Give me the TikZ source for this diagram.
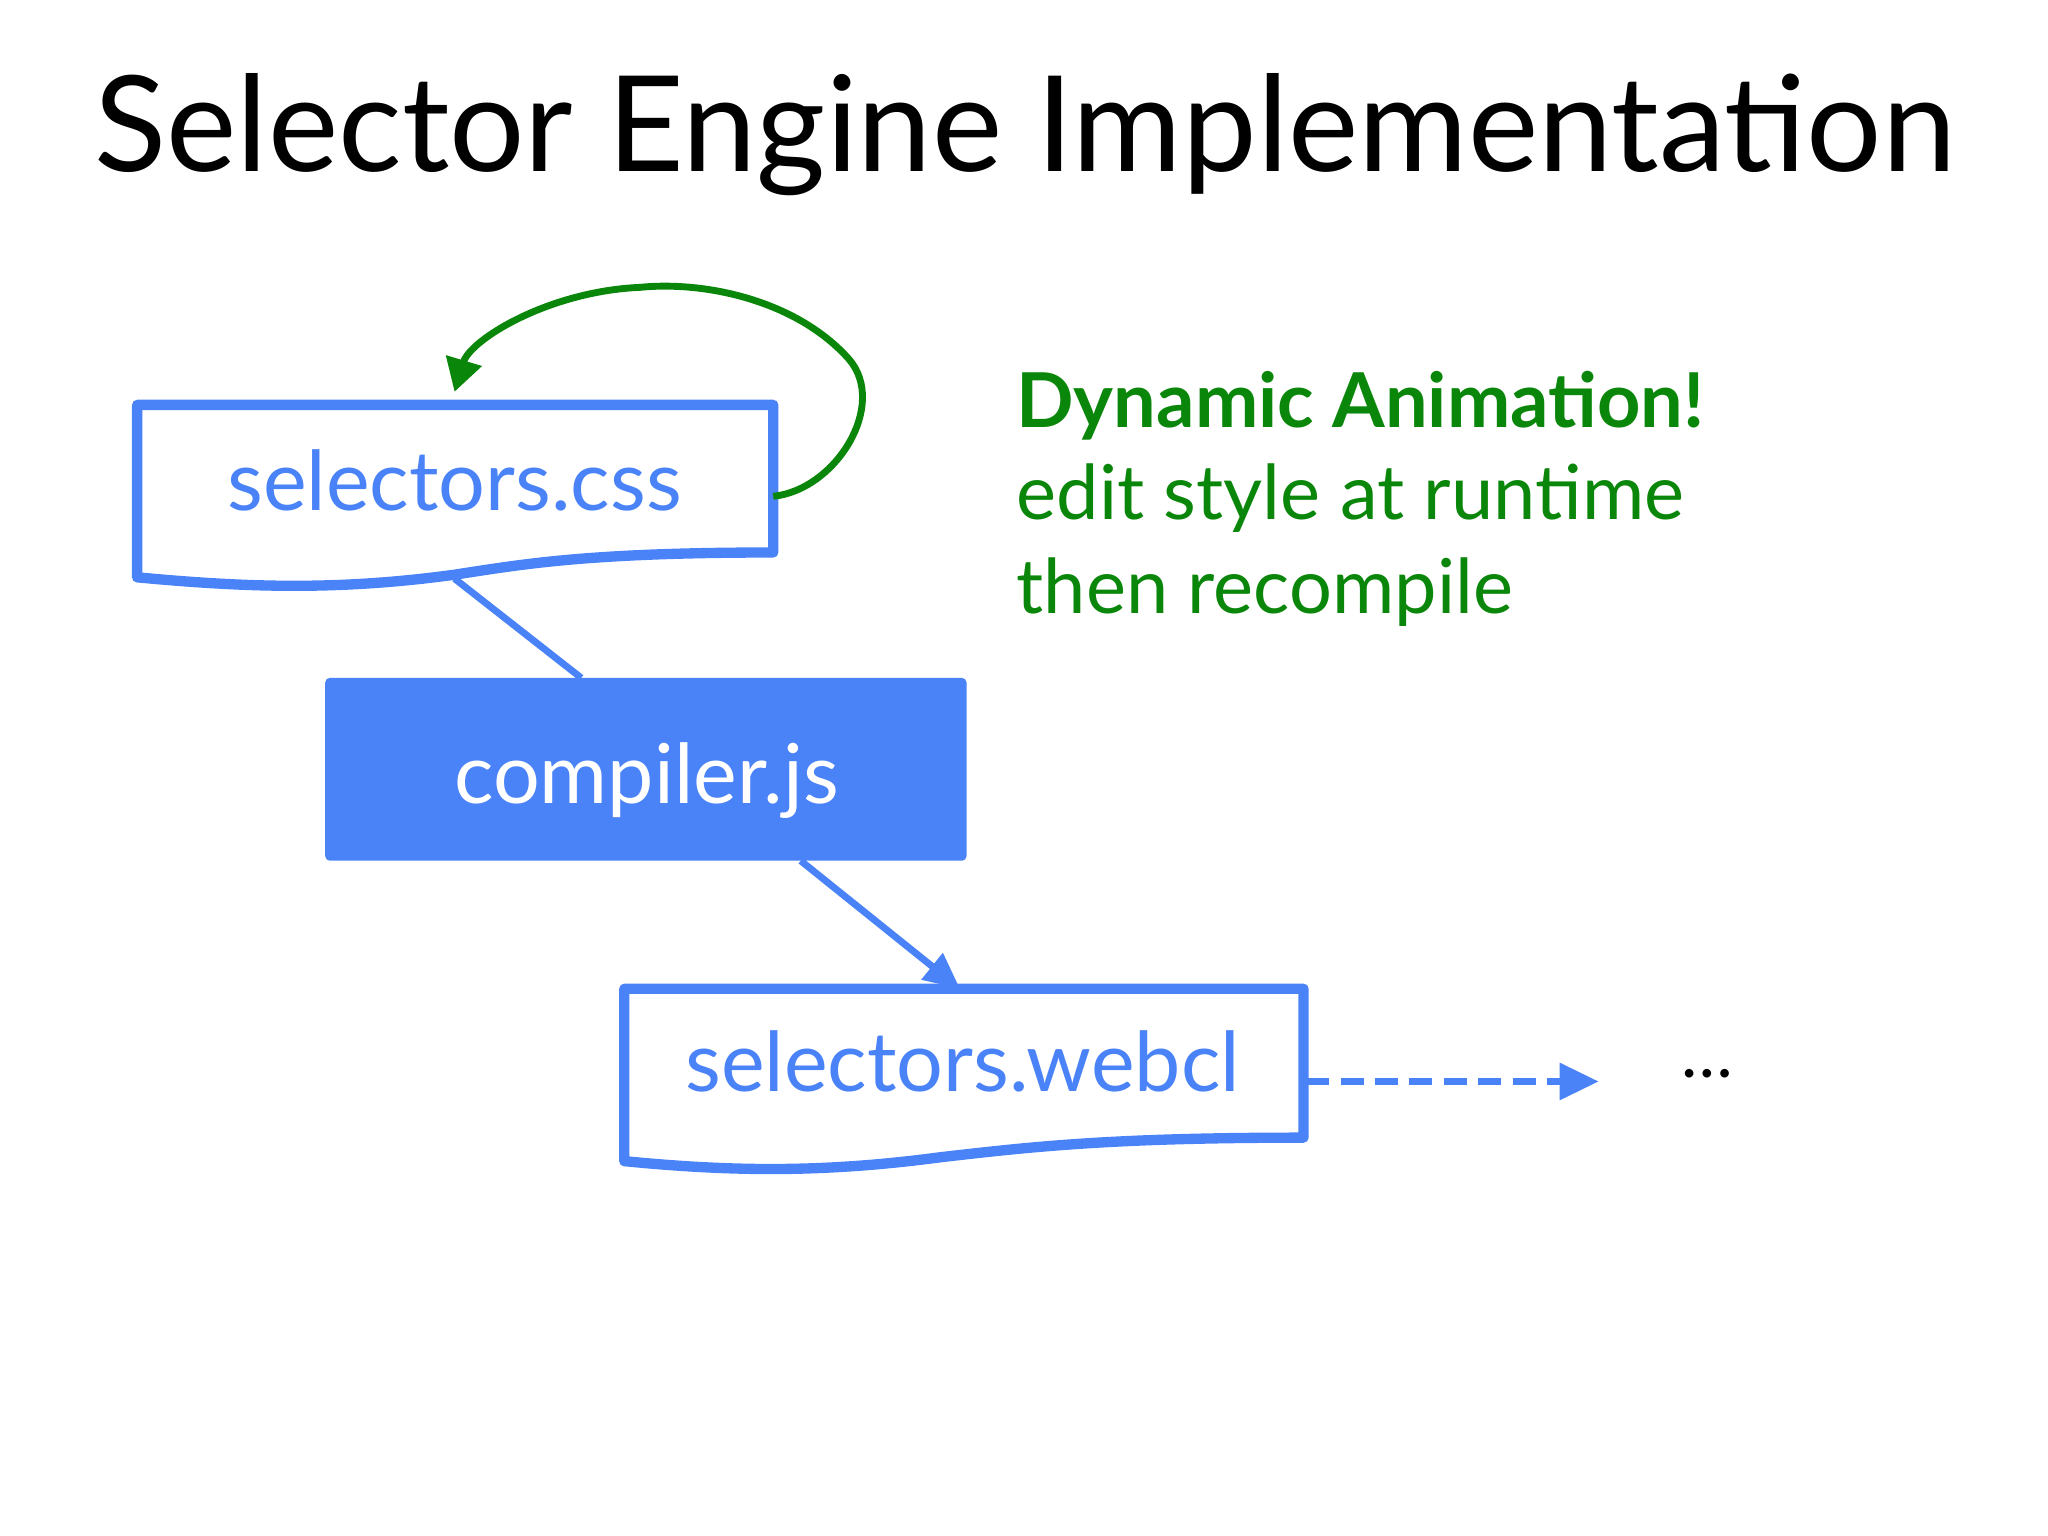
\documentclass[tikz,border=0pt]{standalone}
\usepackage{fontspec}
\setmainfont{Lato}
\usetikzlibrary{arrows.meta}
\definecolor{bl}{HTML}{4A82F7}
\definecolor{gr}{HTML}{0A870A}
\begin{document}
\begin{tikzpicture}[x=0.02cm,y=-0.02cm,
  doc/.style={draw=bl,line width=4.5pt,line join=round},
  lbl/.style={font=\fontsize{36}{40}\selectfont,text=bl,inner sep=0},
  conn/.style={draw=bl,line width=3pt},
  gtxt/.style={font=\fontsize{33}{38}\selectfont,text=gr,anchor=base west,inner sep=0}]
\useasboundingbox (0,0) rectangle (1568,1176);
\node[font=\fontsize{58}{64}\selectfont,inner sep=0] (title) at (785,103) {Selector Engine Implementation};
% selectors.css
\draw[doc] (105,310) -- (592,310) -- (592,423) .. controls (450,423) and (400,432) .. (348,440) .. controls (260,452) and (190,450) .. (105,442) -- cycle;
\node[lbl] (css) at (348,368) {selectors.css};
\coordinate (cssb) at (348,443);
\coordinate (cssr) at (592,380);
% compiler.js
\fill[bl,rounded corners=2pt] (249,519) rectangle (740,659);
\node[lbl,text=white] (compt) at (495,598) {compiler.js};
\coordinate (compt1) at (445,519);
\coordinate (compb) at (613,659);
% selectors.webcl
\draw[doc] (478,757) -- (998,757) -- (998,871) .. controls (850,871) and (790,878) .. (720,886) .. controls (630,898) and (560,897) .. (478,889) -- cycle;
\node[lbl] (webcl) at (737,813) {selectors.webcl};
\coordinate (webt) at (735,757);
\coordinate (webr) at (1000,828);
\coordinate (dend) at (1224,828);
\node[font=\fontsize{30}{34}\selectfont,inner sep=0] (dots) at (1307,822) {\dots};
% connectors
\draw[conn] (cssb) -- (compt1);
\draw[conn,-{Triangle[length=0.55cm,width=0.5cm]}] (compb) -- (webt);
\draw[conn,dash pattern=on 10pt off 5pt,-{Triangle[length=0.6cm,width=0.55cm]}] (webr) -- (dend);
\draw[draw=gr,line width=3pt,-{Triangle[length=0.5cm,width=0.55cm]}] (cssr) .. controls (640,375) and (680,310) .. (650,275) .. controls (610,230) and (540,215) .. (490,220) .. controls (420,223) and (360,260) .. (348,300);
% green text
\node[gtxt,font=\fontsize{33}{38}\selectfont\bfseries] (t1) at (778,327) {Dynamic Animation!};
\node[gtxt] (t2) at (778,398) {edit style at runtime};
\node[gtxt] (t3) at (778,470) {then recompile};
\end{tikzpicture}
\end{document}
